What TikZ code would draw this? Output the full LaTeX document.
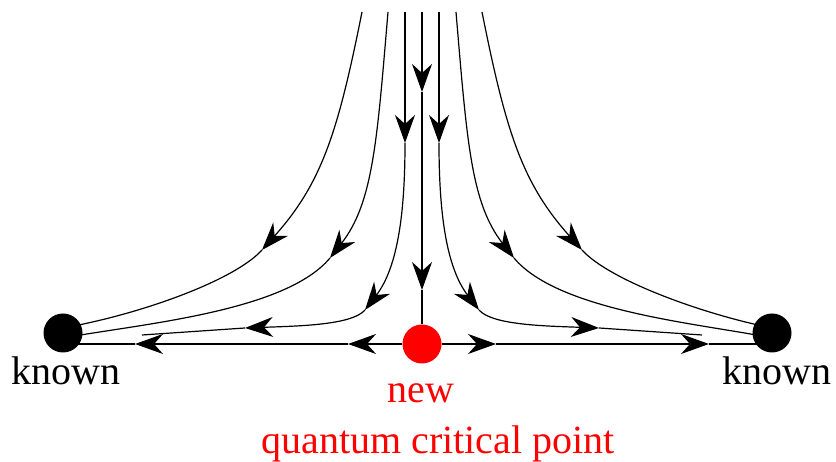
\documentclass[tikz,border=0pt]{standalone}
\usepackage{fontspec}
\setmainfont{Liberation Serif}
\usetikzlibrary{arrows.meta,positioning}

\begin{document}
\begin{tikzpicture}[x=1pt, y=1pt, >={Stealth[length=28pt,width=20pt,inset=9pt]},
 flow/.style={line width=1.2pt},
 dot/.style={circle,fill,inner sep=0pt,minimum size=39pt},
 lbl/.style={font=\fontsize{40}{48}\selectfont,inner sep=0pt,anchor=base}]
 \useasboundingbox (0,0) rectangle (836,462);
 \node[dot] (L) at (63,129) {};
 \node[dot] (R) at (772,129) {};
 \node[dot,red] (Q) at (422,118) {};
 \node[lbl] (kl) at (66,77) {known};
 \node[lbl] (kr) at (777,77) {known};
 \node[lbl,red] (new) at (421,59) {new};
 \node[lbl,red] (qcp) at (438,8) {quantum critical point};

 \coordinate (u1) at (362,450); \coordinate (u2) at (388,450); \coordinate (u3) at (405,450);
 \coordinate (u0) at (422,450);
 \coordinate (v3) at (439,450); \coordinate (v2) at (456,450); \coordinate (v1) at (482,450);

 \coordinate (a1) at (262,212); \coordinate (a2) at (330,204);
 \coordinate (a3) at (405,319); \coordinate (b3) at (365,152);
 \coordinate (c3) at (245,134); \coordinate (e3) at (142,127);
 \coordinate (b1) at (582,212); \coordinate (b2) at (514,204);
 \coordinate (d3) at (439,319); \coordinate (f3) at (479,152);
 \coordinate (g3) at (599,134); \coordinate (h3) at (702,127);
 \coordinate (m1) at (422,370); \coordinate (m2) at (422,172);
 \coordinate (x1) at (348,118); \coordinate (x2) at (135,118);
 \coordinate (y1) at (496,118); \coordinate (y2) at (709,118);

 % left flow
 \draw[flow,->] (u1) .. controls (338,330) and (322,279) .. (a1);
 \draw[flow] (a1) .. controls (235,182) and (142,148) .. ([yshift=5pt]L.center);
 \draw[flow,->] (u2) .. controls (377,320) and (373,259) .. (a2);
 \draw[flow] (a2) .. controls (285,150) and (140,138) .. ([yshift=-5pt]L.center);
 \draw[flow,->] (u3) -- (a3);
 \draw[flow,->] (a3) .. controls (405,250) and (398,195) .. (b3);
 \draw[flow,->] (b3) .. controls (352,137) and (300,136) .. (c3);
 \draw[flow] (c3) -- (e3);

 % right flow
 \draw[flow,->] (v1) .. controls (506,330) and (522,279) .. (b1);
 \draw[flow] (b1) .. controls (609,182) and (702,148) .. ([yshift=5pt]R.center);
 \draw[flow,->] (v2) .. controls (467,320) and (471,259) .. (b2);
 \draw[flow] (b2) .. controls (559,150) and (704,138) .. ([yshift=-5pt]R.center);
 \draw[flow,->] (v3) -- (d3);
 \draw[flow,->] (d3) .. controls (439,250) and (446,195) .. (f3);
 \draw[flow,->] (f3) .. controls (492,137) and (544,136) .. (g3);
 \draw[flow] (g3) -- (h3);

 % separatrices
 \draw[flow,->] (u0) -- (m1);
 \draw[flow,->] (m1) -- (m2);
 \draw[flow] (m2) -- (Q);
 \draw[flow,->] (Q) -- (x1);
 \draw[flow,->] (x1) -- (x2);
 \draw[flow] (x2) -- (L |- Q);
 \draw[flow,->] (Q) -- (y1);
 \draw[flow,->] (y1) -- (y2);
 \draw[flow] (y2) -- (R |- Q);
\end{tikzpicture}
\end{document}
